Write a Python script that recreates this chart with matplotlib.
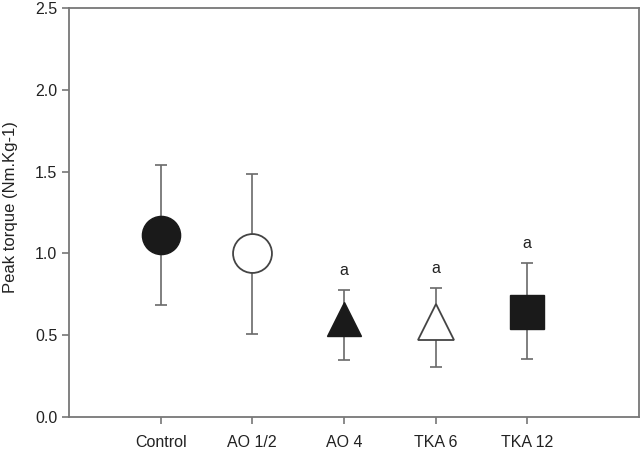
import matplotlib
matplotlib.use('Agg')
import matplotlib.pyplot as plt

plt.rcParams['font.family'] = ['Liberation Sans', 'DejaVu Sans']

groups = ['Control', 'AO 1/2', 'AO 4', 'TKA 6', 'TKA 12']
means = [1.11, 1.00, 0.595, 0.58, 0.643]
upper = [1.538, 1.484, 0.777, 0.786, 0.938]
lower = [0.685, 0.504, 0.347, 0.304, 0.353]
markers = ['o', 'o', '^', '^', 's']
filled = [True, False, True, False, True]
msizes = [27.5, 28, 25, 25.5, 24.5]
sig = ['', '', 'a', 'a', 'a']

fig = plt.figure(figsize=(6.43, 4.5), dpi=100)
ax = fig.add_axes([0.1073, 0.074, 0.8865, 0.908])

grey = '#6a6a6a'
xs = list(range(1, len(groups) + 1))
for x, m, hi, lo, mk, f, ms, s in zip(xs, means, upper, lower, markers, filled, msizes, sig):
    ax.errorbar([x], [m], yerr=[[m - lo], [hi - m]], fmt='none', ecolor=grey,
                elinewidth=1.2, capsize=4.2, capthick=1.2, zorder=2)
    ax.plot([x], [m], marker=mk, markersize=ms, linestyle='none',
            markerfacecolor='#1a1a1a' if f else 'white',
            markeredgecolor='#1a1a1a' if f else '#444444',
            markeredgewidth=1.0 if f else 1.3, zorder=3)
    if s:
        ax.text(x, hi + 0.12, s, ha='center', va='center', fontsize=11.5, color='#222222')

ax.set_xlim(0.0, 6.22)
ax.set_ylim(0, 2.5)
ax.set_xticks(xs)
ax.set_xticklabels(groups)
ax.set_yticks([0.0, 0.5, 1.0, 1.5, 2.0, 2.5])
ax.set_yticklabels(['0.0', '0.5', '1.0', '1.5', '2.0', '2.5'])
ax.set_ylabel('Peak torque (Nm.Kg-1)', fontsize=12, color='#222222')
ax.yaxis.set_label_coords(-0.09, 0.512)

for sp in ax.spines.values():
    sp.set_color('#777777')
    sp.set_linewidth(1.3)
ax.tick_params(direction='out', length=5, width=1.2, color='#777777',
               labelsize=11.5, labelcolor='#222222')
ax.tick_params(axis='x', pad=8.5)

fig.savefig('out.png', dpi=100)
